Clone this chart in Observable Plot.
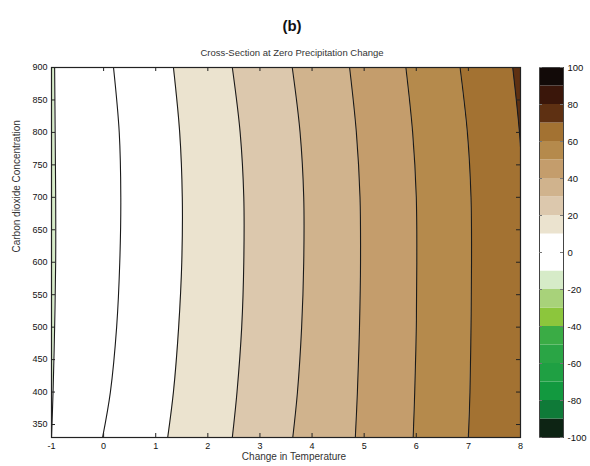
<!DOCTYPE html>
<html><head><meta charset="utf-8">
<script src="https://cdn.jsdelivr.net/npm/d3@7"></script>
<script src="https://cdn.jsdelivr.net/npm/@observablehq/plot@0.6"></script>
<style>
body{margin:0;background:#fff;font-family:"Liberation Sans",Arial,sans-serif;}
#wrap{position:relative;width:590px;height:466px;overflow:hidden;background:#fff;}
#title{position:absolute;top:17px;left:192px;width:200px;text-align:center;font-weight:bold;font-size:15px;color:#111;}
#sub{position:absolute;top:47px;left:142px;width:300px;text-align:center;font-size:9.5px;color:#333;}
.p{position:absolute;left:0;top:45px;}
</style></head><body>
<div id="wrap"><div id="title">(b)</div><div id="sub">Cross-Section at Zero Precipitation Change</div></div>
<script>
// CO2 concentrations at which contour positions were read
const co2Samples = [330, 400, 500, 600, 700, 800, 900];
// contour levels
const contourLevels = [-10, 0, 10, 20, 30, 40, 50, 60, 70];
// temperature position of each contour at the CO2 samples
const tempMinus10 = [-1.00, -0.97, -0.94, -0.92, -0.92, -0.93, -0.94];
const temp0  = [-0.02, 0.13, 0.25, 0.31, 0.33, 0.30, 0.19];
const temp10 = [1.23, 1.34, 1.44, 1.50, 1.51, 1.46, 1.34];
const temp20 = [2.47, 2.56, 2.65, 2.69, 2.69, 2.62, 2.47];
const temp30 = [3.63, 3.72, 3.80, 3.84, 3.84, 3.77, 3.62];
const temp40 = [4.83, 4.87, 4.91, 4.93, 4.92, 4.85, 4.72];
const temp50 = [5.94, 5.97, 6.00, 6.01, 6.00, 5.93, 5.80];
const temp60 = [7.00, 7.03, 7.05, 7.06, 7.05, 6.98, 6.84];
const temp70 = [8.05, 8.06, 8.07, 8.07, 8.05, 7.98, 7.85];
const contourTemps = [tempMinus10, temp0, temp10, temp20, temp30, temp40, temp50, temp60, temp70];

// axes
const tempDomain = [-1, 8];
const co2Domain = [330, 900];
const xTicks = [-1, 0, 1, 2, 3, 4, 5, 6, 7, 8];
const yTicks = [350, 400, 450, 500, 550, 600, 650, 700, 750, 800, 850, 900];
const cbTicks = [-100, -80, -60, -40, -20, 0, 20, 40, 60, 80, 100];

// colour bar bands (lower bounds) and colours
const bandLows = [-100,-90,-80,-70,-60,-50,-40,-30,-20,-10,0,10,20,30,40,50,60,70,80,90];
const bandColors = ["#0d2414","#0f7a38","#12993f","#1fa043","#2aa545","#3aac45","#8cc63c","#a8d27a","#d6ebc8","#ffffff",
                    "#ffffff","#ebe3cf","#dcc8ad","#d0b38d","#c49d6c","#b58a4c","#a37232","#5e3012","#3a160a","#120a08"];

const color = {type: "threshold", domain: bandLows.slice(1), range: bandColors};

// build band polygons between consecutive contours
const bandRows = [];
for (let i = 0; i <= contourLevels.length; i++) {
  const left = i === 0 ? null : contourTemps[i - 1];
  const right = i === contourLevels.length ? null : contourTemps[i];
  const level = i === 0 ? contourLevels[0] - 10 : contourLevels[i - 1];
  co2Samples.forEach((c, j) => {
    bandRows.push({band: i, level, co2: c,
      t1: left ? left[j] : tempDomain[0],
      t2: right ? right[j] : tempDomain[1]});
  });
}
const lineRows = [];
contourLevels.forEach((lv, i) => co2Samples.forEach((c, j) => lineRows.push({level: lv, co2: c, t: contourTemps[i][j]})));

const font = '"Liberation Sans", Arial, sans-serif';
const W = 590, H = 421;
const mL = 51, mR = 70, mT = 22, mB = 29;
const frameW = W - mL - mR, frameH = H - mT - mB, tk = 4;
const main = Plot.plot({
  width: W, height: H,
  marginLeft: mL, marginRight: mR, marginTop: mT, marginBottom: mB,
  x: {domain: tempDomain},
  y: {domain: co2Domain},
  color,
  style: {fontFamily: font, fontSize: "9px", color: "#111", background: "transparent"},
  marks: [
    Plot.areaX(bandRows, {y: "co2", x1: "t1", x2: "t2", z: "band", fill: "level", curve: "catmull-rom", clip: true}),
    Plot.line(lineRows, {x: "t", y: "co2", z: "level", stroke: "#1a1a1a", strokeWidth: 1.1, curve: "catmull-rom", clip: true}),
    Plot.frame({stroke: "#222", strokeWidth: 1.2}),
    // inward tick marks on all four sides
    Plot.tickX(xTicks, {x: d => d, insetTop: frameH - tk, stroke: "#222"}),
    Plot.tickX(xTicks, {x: d => d, insetBottom: frameH - tk, stroke: "#222"}),
    Plot.tickY(yTicks, {y: d => d, insetRight: frameW - tk, stroke: "#222"}),
    Plot.tickY(yTicks, {y: d => d, insetLeft: frameW - tk, stroke: "#222"}),
    Plot.axisX({anchor: "bottom", ticks: xTicks, tickSize: 0, tickPadding: 5, tickFormat: d => String(d), label: null}),
    Plot.axisY({anchor: "left", ticks: yTicks, tickSize: 0, tickPadding: 4, tickFormat: d => String(d), label: null}),
    Plot.text(["Change in Temperature"], {frameAnchor: "bottom", dy: 22, dx: 8, fontSize: 10, fill: "#333"}),
    Plot.text(["Carbon dioxide Concentration"], {frameAnchor: "left", dx: -35, rotate: -90, fontSize: 10, fill: "#333"})
  ]
});
main.classList.add("p");

const cbRows = bandLows.map(lo => ({lo, hi: lo + 10}));
const cbL = 539, cbR = 27, cbW = W - cbL - cbR, ctk = 3;
const bar = Plot.plot({
  width: W, height: H,
  marginLeft: cbL, marginRight: cbR, marginTop: mT, marginBottom: mB,
  y: {domain: [-100, 100]},
  color,
  style: {fontFamily: font, fontSize: "9.5px", color: "#111", background: "transparent"},
  marks: [
    Plot.rectY(cbRows, {y1: "lo", y2: "hi", fill: "lo"}),
    Plot.frame({stroke: "#444", strokeWidth: 1}),
    Plot.tickY(cbTicks, {y: d => d, insetRight: cbW - ctk, stroke: "#777"}),
    Plot.tickY(cbTicks, {y: d => d, insetLeft: cbW - ctk, stroke: "#777"}),
    Plot.axisY({anchor: "right", ticks: cbTicks, tickSize: 0, tickPadding: 4, tickFormat: d => String(d), label: null})
  ]
});
bar.classList.add("p");

const wrap = document.getElementById("wrap");
wrap.appendChild(main);
wrap.appendChild(bar);
</script>
</body></html>
